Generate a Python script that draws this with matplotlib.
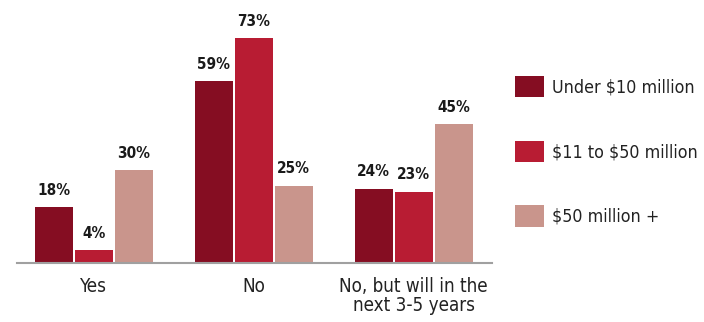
import matplotlib
matplotlib.use("Agg")
from matplotlib import pyplot as plt
import numpy as np

plt.rcParams['font.family'] = ['DejaVu Sans']
plt.rcParams['font.stretch'] = 'condensed'
plt.rcParams['text.parse_math'] = False

categories = ["Yes", "No", "No, but will in the\nnext 3-5 years"]
series_names = ["Under $10 million", "$11 to $50 million", "$50 million +"]
values = [
    [18, 59, 24],
    [4, 73, 23],
    [30, 25, 45],
]
colors = ["#850D22", "#B81C33", "#C9958C"]

fig = plt.figure(figsize=(7.04, 3.22), dpi=100)
ax = fig.add_axes([17/704, 59.3/322, 475/704, 246/322])

x = np.arange(len(categories))
width = 0.2375
offsets = [-0.25, 0, 0.25]

for i in range(3):
    bars = ax.bar(x + offsets[i], values[i], width, color=colors[i], label=series_names[i])
    for b, v in zip(bars, values[i]):
        ax.annotate(f"{v}%", (b.get_x() + b.get_width()/2, v), xytext=(0, 7),
                    textcoords="offset points", ha="center", va="bottom",
                    fontsize=11, fontweight="bold", color="#1a1a1a")

ax.set_xlim(-0.48, 2.49)
ax.set_ylim(0, 80)
for s in ["top", "right", "left"]:
    ax.spines[s].set_visible(False)
ax.spines["bottom"].set_color("#A0A0A0")
ax.spines["bottom"].set_linewidth(1.5)
ax.set_yticks([])
ax.set_xticks(x)
ax.set_xticklabels(categories, fontsize=13.5, color="#222222", linespacing=1.0)
ax.tick_params(axis="x", length=0, pad=10)

fig.legend(loc="upper left", bbox_to_anchor=(508/704, 1 - 69/322), frameon=False,
           fontsize=12.8, handlelength=1.63, handleheight=1.45, handletextpad=0.45,
           labelspacing=2.45, borderaxespad=0, labelcolor="#222222")

fig.savefig("out.png", dpi=100)
